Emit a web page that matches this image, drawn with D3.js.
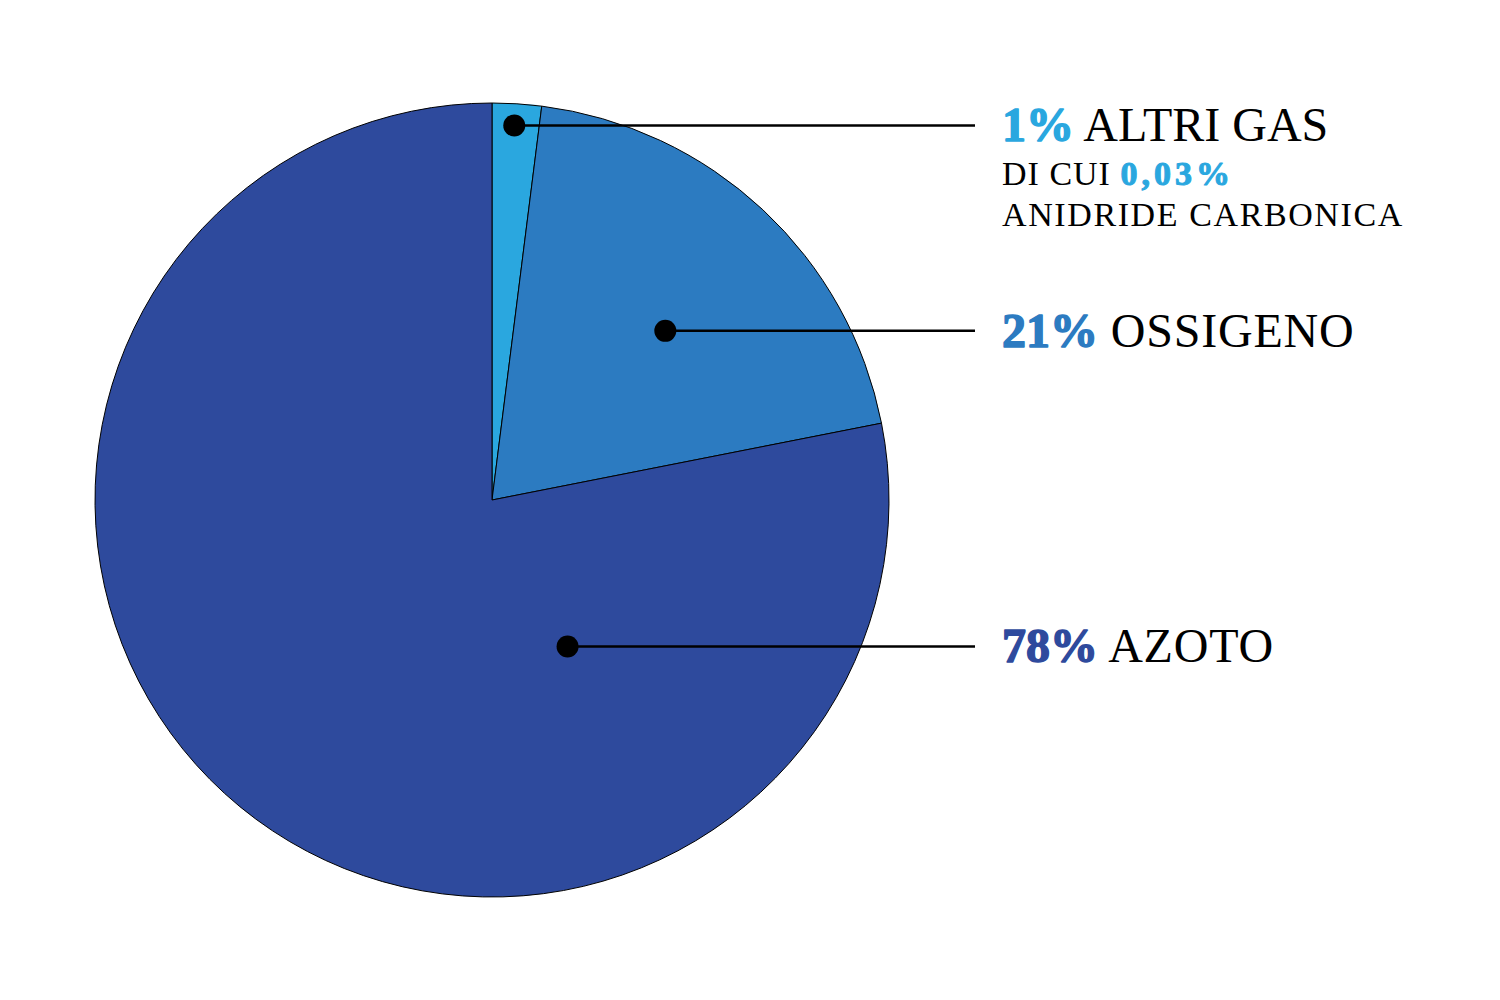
<!DOCTYPE html>
<html>
<head>
<meta charset="utf-8">
<script src="https://cdn.jsdelivr.net/npm/d3@7"></script>
<style>
    body { margin: 0; background: #fff; }
    .label { font-family: "Liberation Serif", "Times New Roman", serif; fill: #000; }
    .pct { font-weight: bold; stroke-width: 1.4px; stroke-linejoin: round; }
</style>
</head>
<body>
<script>
(function(){

    //chart data
    var gases = ["ALTRI GAS", "OSSIGENO", "AZOTO"];         //slice names, clockwise from top
    var shares = [2, 19.9, 78.1];                            //slice sizes as drawn in the picture
    var pctLabels = ["1%", "21%", "78%"];                    //percent text shown next to each name
    var subLines = [["DI CUI ", "0,03%"], ["ANIDRIDE CARBONICA"]]; //note under "altri gas"
    var colors = ["#2aa7df", "#2c7bc1", "#2e4a9d"];

    //where each callout dot sits inside its slice: [angle in degrees from top, fraction of radius]
    var anchors = [[3.4, 0.945], [45.7, 0.61], [152.7, 0.415]];

    window.onload = drawChart;

    function drawChart(){

        var width = 1500,
            height = 1000,
            cx = 492,
            cy = 500,
            radius = 397,
            lineEnd = 975,
            textX = 1002;

        var svg = d3.select("body")
            .append("svg")
            .attr("width", width)
            .attr("height", height);

        var data = gases.map(function(g, i){
            return { name: g, value: shares[i], pct: pctLabels[i], color: colors[i] };
        });

        //pie layout starting at 12 o'clock, keeping the data order
        var pie = d3.pie()
            .sort(null)
            .value(function(d){ return d.value; });

        var arc = d3.arc()
            .innerRadius(0)
            .outerRadius(radius);

        var pieGroup = svg.append("g")
            .attr("transform", "translate(" + cx + "," + cy + ")");

        pieGroup.selectAll(".slice")
            .data(pie(data))
            .enter()
            .append("path")
            .attr("class", "slice")
            .attr("d", arc)
            .style("fill", function(d){ return d.data.color; })
            .style("stroke", "#000")
            .style("stroke-width", 1);

        //callout points in page coordinates
        var points = anchors.map(function(a){
            var ang = a[0] * Math.PI / 180;
            return [cx + Math.sin(ang) * a[1] * radius, cy - Math.cos(ang) * a[1] * radius];
        });

        //leader lines
        svg.selectAll(".leader")
            .data(points)
            .enter()
            .append("line")
            .attr("class", "leader")
            .attr("x1", function(d){ return d[0]; })
            .attr("y1", function(d){ return d[1]; })
            .attr("x2", lineEnd)
            .attr("y2", function(d){ return d[1]; })
            .style("stroke", "#000")
            .style("stroke-width", 2.5);

        //dots
        svg.selectAll(".dot")
            .data(points)
            .enter()
            .append("circle")
            .attr("class", "dot")
            .attr("cx", function(d){ return d[0]; })
            .attr("cy", function(d){ return d[1]; })
            .attr("r", 11)
            .style("fill", "#000");

        //main labels: coloured bold percent + name
        var labels = svg.selectAll(".main")
            .data(data)
            .enter()
            .append("text")
            .attr("class", "label main")
            .attr("x", textX)
            .attr("y", function(d, i){ return points[i][1] + 16; })
            .style("font-size", "48px");

        labels.append("tspan")
            .attr("class", "pct")
            .style("fill", function(d){ return d.color; })
            .style("stroke", function(d){ return d.color; })
            .text(function(d){ return d.pct; });

        labels.append("tspan")
            .text(function(d){ return " " + d.name; })
            .style("letter-spacing", function(d, i){ return i == 0 ? "0px" : "0.8px"; });

        //small note under altri gas
        var noteY = points[0][1] + 16;
        var note = svg.append("g").attr("class", "note");

        var line1 = note.append("text")
            .attr("class", "label")
            .attr("x", textX)
            .attr("y", noteY + 44)
            .style("font-size", "34px")
            .style("letter-spacing", "1px");
        line1.append("tspan").text(subLines[0][0]);
        line1.append("tspan")
            .attr("class", "pct")
            .style("fill", colors[0])
            .style("stroke", colors[0])
            .style("letter-spacing", "4px")
            .style("stroke-width", "1px")
            .text(subLines[0][1]);

        note.append("text")
            .attr("class", "label")
            .attr("x", textX)
            .attr("y", noteY + 85)
            .style("font-size", "34px")
            .style("letter-spacing", "1.6px")
            .text(subLines[1][0]);
    };

})();
</script>
</body>
</html>
